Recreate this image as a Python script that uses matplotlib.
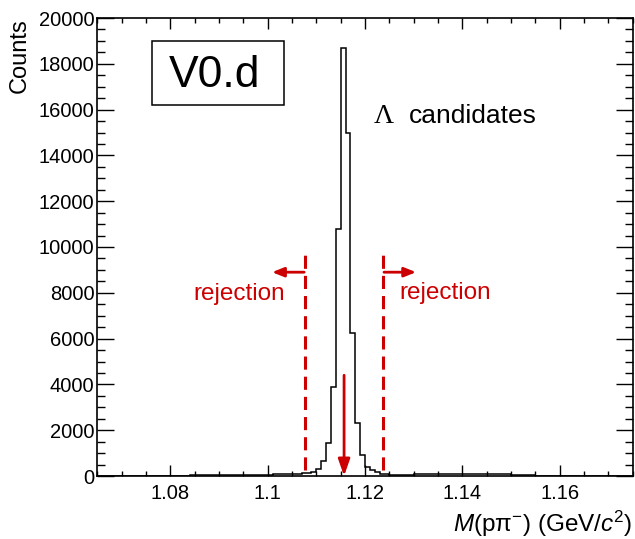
import numpy as np
import matplotlib
matplotlib.use("Agg")
import matplotlib.pyplot as plt
from matplotlib.patches import Rectangle
from matplotlib.ticker import MultipleLocator

plt.rcParams['font.family'] = ['Liberation Sans', 'DejaVu Sans']
plt.rcParams['mathtext.fontset'] = 'custom'
plt.rcParams['mathtext.rm'] = 'Liberation Sans'
plt.rcParams['mathtext.it'] = 'Liberation Sans:italic'

# ---- data ----
bin_lo = 1.065
bin_width = 0.001
counts = [
    # 1.065 - 1.077 (below threshold)
    0, 0, 0, 0, 0, 0, 0, 0, 0, 0, 0, 0, 0,
    # 1.078 - 1.089
    3, 8, 12, 15, 18, 20, 22, 24, 26, 28, 30, 32,
    # 1.090 - 1.099
    34, 36, 38, 40, 42, 45, 48, 52, 56, 60,
    # 1.100 - 1.109
    65, 70, 76, 82, 90, 95, 105, 115, 140, 170,
    # 1.110 - 1.119
    300, 640, 1460, 3870, 10800, 18700, 15000, 6250, 2300, 910,
    # 1.120 - 1.129
    400, 260, 160, 100, 70, 55, 50, 55, 60, 65,
    # 1.130 - 1.139
    70, 75, 80, 85, 90, 95, 100, 102, 105, 105,
    # 1.140 - 1.149
    105, 104, 102, 100, 97, 93, 88, 82, 75, 68,
    # 1.150 - 1.159
    60, 50, 40, 30, 22, 15, 10, 6, 4, 2,
    # 1.160 - 1.174
    1, 1, 0, 0, 0, 0, 0, 0, 0, 0, 0, 0, 0, 0, 0,
]
edges = bin_lo + bin_width * np.arange(len(counts) + 1)

x_ticks = [1.08, 1.1, 1.12, 1.14, 1.16]
x_tick_labels = ["1.08", "1.1", "1.12", "1.14", "1.16"]
y_ticks = [0, 2000, 4000, 6000, 8000, 10000, 12000, 14000, 16000, 18000, 20000]
y_tick_labels = [str(v) for v in y_ticks]

lambda_mass = 1.1157
cut_lo = 1.1077
cut_hi = 1.1237

RED = '#cc0000'
W, H = 635, 539

fig = plt.figure(figsize=(W / 100, H / 100), dpi=100)
ax = fig.add_axes([97.3 / W, 1 - 476 / H, (632.7 - 97.3) / W, (476 - 18) / H])

ax.stairs(counts, edges, color='black', linewidth=1.1)

ax.set_xlim(1.065, 1.175)
ax.set_ylim(0, 20000)
ax.set_xticks(x_ticks)
ax.set_xticklabels(x_tick_labels)
ax.set_yticks(y_ticks)
ax.set_yticklabels(y_tick_labels)
ax.xaxis.set_minor_locator(MultipleLocator(0.005))
ax.yaxis.set_minor_locator(MultipleLocator(500))

ax.tick_params(axis='both', which='both', direction='in', top=True, right=True,
               labelsize=14.5, width=1.0)
ax.tick_params(axis='x', which='major', length=8, pad=6)
ax.tick_params(axis='x', which='minor', length=3.8)
ax.tick_params(axis='y', which='major', length=12, pad=2)
ax.tick_params(axis='y', which='minor', length=6)
for s in ax.spines.values():
    s.set_linewidth(1.2)

# cut lines
for xc in (cut_lo, cut_hi):
    ax.plot([xc, xc], [260, 9800], color=RED, linewidth=2.2,
            linestyle=(0, (4.3, 2.3)), solid_capstyle='butt')

# rejection arrows
arrow_y = 8900
ax.annotate('', xy=(cut_lo - 0.0068, arrow_y), xytext=(cut_lo - 0.0002, arrow_y),
            arrowprops=dict(arrowstyle='-|>,head_length=0.7,head_width=0.28',
                            color=RED, lw=2.0, shrinkA=0, shrinkB=0))
ax.annotate('', xy=(cut_hi + 0.0068, arrow_y), xytext=(cut_hi + 0.0002, arrow_y),
            arrowprops=dict(arrowstyle='-|>,head_length=0.7,head_width=0.28',
                            color=RED, lw=2.0, shrinkA=0, shrinkB=0))

# mass arrow
ax.annotate('', xy=(lambda_mass, 0), xytext=(lambda_mass, 4400),
            arrowprops=dict(arrowstyle='-|>,head_length=1.0,head_width=0.35',
                            color=RED, lw=2.0, shrinkA=0, shrinkB=0))

def fx(px):
    return px / W

def fy(py):
    return 1 - py / H

fig.text(fx(239), fy(300), 'rejection', color=RED, fontsize=17.5, ha='center', va='baseline')
fig.text(fx(445.5), fy(299), 'rejection', color=RED, fontsize=17.5, ha='center', va='baseline')

fig.text(fx(374), fy(123), '\u039b', family=['Liberation Serif', 'DejaVu Serif'],
         fontsize=20, ha='left', va='baseline')
fig.text(fx(409), fy(123), 'candidates', fontsize=19, ha='left', va='baseline')

# V0.d box
box = Rectangle((fx(152.3), fy(105)), fx(284.3) - fx(152.3), fy(40.7) - fy(105),
                transform=fig.transFigure, facecolor='white', edgecolor='black',
                linewidth=1.1, zorder=5)
fig.patches.append(box)
fig.text(fx(214.5), fy(87.3), 'V0.d', fontsize=32, ha='center', va='baseline', zorder=6)

# axis labels
fig.text(fx(20), fy(18), 'Counts', fontsize=17, rotation=90, ha='center', va='top')
fig.text(fx(632.7), fy(531.7), r'$M$(p$\mathrm{\pi}^{-}$) (GeV/$c^{2}$)',
         fontsize=17.5, ha='right', va='baseline')

fig.savefig('out.png', dpi=100)
